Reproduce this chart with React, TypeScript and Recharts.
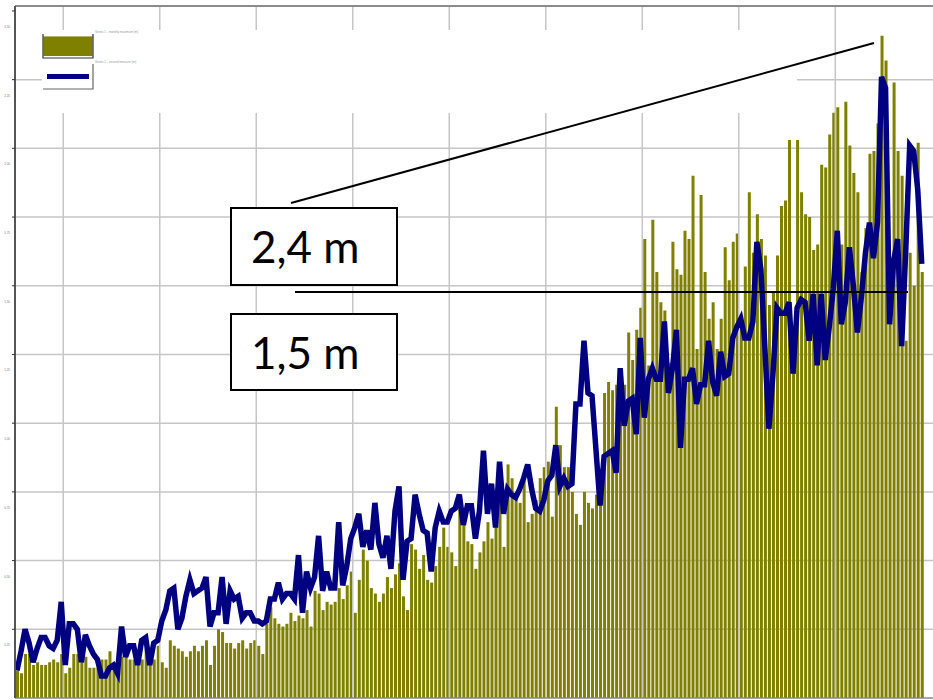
import { ComposedChart, Bar, Line, XAxis, YAxis, CartesianGrid, ReferenceLine } from 'recharts'

// monthly maximum (bars), metres
const barValues = [
  0.10, 0.09, 0.16, 0.16, 0.12, 0.13, 0.12, 0.12, 0.13, 0.14, 0.13, 0.16,
  0.09, 0.11, 0.16, 0.16, 0.13, 0.15, 0.11, 0.11, 0.11, 0.14, 0.14, 0.17,
  0.13, 0.15, 0.15, 0.15, 0.14, 0.14, 0.17, 0.14, 0.18, 0.14, 0.14, 0.19,
  0.13, 0.11, 0.21, 0.19, 0.18, 0.17, 0.15, 0.17, 0.19, 0.17, 0.19, 0.21,
  0.12, 0.19, 0.25, 0.24, 0.20, 0.20, 0.18, 0.20, 0.21, 0.18, 0.20, 0.21,
  0.19, 0.16, 0.27, 0.33, 0.29, 0.27, 0.26, 0.27, 0.31, 0.28, 0.30,
  0.29, 0.32, 0.26, 0.39, 0.38, 0.32, 0.35, 0.34, 0.35, 0.40, 0.36, 0.41,
  0.46, 0.31, 0.43, 0.54, 0.50, 0.40, 0.38, 0.35, 0.38, 0.44, 0.40, 0.45,
  0.49, 0.37, 0.32, 0.56, 0.54, 0.47, 0.52, 0.43, 0.42, 0.48, 0.55, 0.62,
  0.55, 0.53, 0.48, 0.70, 0.66, 0.57, 0.56, 0.47, 0.53, 0.57, 0.64, 0.58,
  0.66, 0.79, 0.55, 0.85, 0.80, 0.74, 0.71, 0.79, 0.64, 0.67, 0.72, 0.80,
  0.84, 0.86, 0.66, 1.06, 0.92, 0.84, 0.84, 0.75, 0.67, 0.63, 0.75, 0.71,
  0.69, 0.74, 0.75,
  1.11, 1.15, 1.12, 1.14, 1.10, 1.14, 1.33, 1.23, 1.34, 1.42, 1.67, 1.21,
  1.74, 1.55, 1.44, 1.41, 1.22, 1.66, 1.56, 1.54, 1.70, 1.67, 1.90, 1.27,
  1.83, 1.55, 1.38, 1.44, 1.27, 1.38, 1.64, 1.52, 1.66, 1.69, 1.39, 1.57,
  1.84, 1.62,
  1.76, 1.67, 1.61, 1.43, 1.48, 1.61, 1.79, 1.81, 2.03, 1.18, 2.03, 1.84,
  1.76, 1.75, 1.63, 1.65, 1.94, 1.93, 2.05, 2.13, 2.15, 1.65, 2.17, 2.01,
  1.91, 1.84, 1.55, 1.71, 1.98, 1.99, 2.09, 2.41, 2.32, 1.58, 2.24, 1.99,
  1.90, 1.30, 1.62, 1.50, 2.02, 1.55,
]

// second series (line), metres
const lineValues = [
  0.10, 0.17, 0.25, 0.20, 0.13, 0.18, 0.22, 0.22, 0.19, 0.18, 0.21, 0.35,
  0.12, 0.27, 0.27, 0.25, 0.13, 0.23, 0.19, 0.16, 0.14, 0.08, 0.08, 0.11,
  0.12, 0.09, 0.26, 0.15, 0.19, 0.19, 0.12, 0.21, 0.22, 0.12, 0.20, 0.21,
  0.28, 0.32, 0.39, 0.40, 0.25, 0.29, 0.37, 0.43, 0.38, 0.39, 0.40, 0.44,
  0.26, 0.31, 0.31, 0.44, 0.27, 0.39, 0.36, 0.37, 0.29, 0.31, 0.31, 0.28,
  0.28, 0.27, 0.28, 0.36, 0.36, 0.42, 0.36, 0.38, 0.38, 0.36, 0.52,
  0.31, 0.46, 0.40, 0.44, 0.59, 0.39, 0.46, 0.40, 0.40, 0.64, 0.41, 0.48,
  0.58, 0.62, 0.67, 0.55, 0.61, 0.54, 0.71, 0.56, 0.51, 0.59, 0.47, 0.68,
  0.77, 0.43, 0.57, 0.58, 0.74, 0.67, 0.61, 0.60, 0.46, 0.62, 0.68, 0.64,
  0.64, 0.68, 0.69, 0.74, 0.63, 0.70, 0.70, 0.58, 0.68, 0.90, 0.67, 0.78,
  0.62, 0.86, 0.67, 0.76, 0.74, 0.73, 0.76, 0.80, 0.85, 0.76, 0.69, 0.68,
  0.72, 0.79, 0.81, 0.92, 0.77, 0.80, 0.77, 0.78, 1.07, 1.07, 1.30, 1.11,
  1.10, 0.90, 0.70,
  0.88, 0.89, 0.90, 0.82, 1.20, 0.99, 1.08, 1.09, 0.96, 1.31, 1.02, 1.16,
  1.20, 1.16, 1.16, 1.37, 1.11, 1.20, 1.34, 0.91, 1.16, 1.16, 1.20, 1.07,
  1.14, 1.14, 1.30, 1.15, 1.10, 1.26, 1.17, 1.18, 1.31, 1.35, 1.38, 1.31,
  1.31, 1.37,
  1.66, 1.56, 1.27, 0.98, 1.18, 1.42, 1.40, 1.40, 1.44, 1.18, 1.42, 1.45,
  1.44, 1.30, 1.47, 1.21, 1.47, 1.23, 1.35, 1.49, 1.70, 1.36, 1.44, 1.64,
  1.50, 1.33, 1.46, 1.62, 1.73, 1.60, 1.73, 2.26, 2.22, 1.36, 1.59, 1.67,
  1.28, 1.62, 2.01, 1.99, 1.85, 1.58,
]

const yTicks = [0, 0.25, 0.5, 0.75, 1, 1.25, 1.5, 1.75, 2, 2.25, 2.5]
const yGridValues = [0.25, 0.5, 0.75, 1, 1.25, 1.5, 1.75, 2, 2.25]
const xGridTicks = [12, 36, 60, 84, 108, 132, 156, 180, 204]
const seriesNames = ['Series 1 - monthly maximum (m)', 'Series 2 - second measure (m)']
const calloutLabels = ['2,4 m', '1,5 m']

const Y_MAX = 2.518
const X_MAX = 228.3

const data = barValues.map((v, i) => ({ x: i + 0.5, bar: v, line: lineValues[i] }))

function YTick({ x, y, payload }: any) {
  return (
    <text x={x} y={y + 17} fontSize={3} fill="#777" textAnchor="end" fontFamily="Liberation Sans, sans-serif">
      {payload.value.toFixed(2).replace('.', ',')}
    </text>
  )
}

function Overlay() {
  return (
    <svg width={933} height={700} style={{ position: 'absolute', left: 0, top: 0, pointerEvents: 'none' }}>
      {/* legend background */}
      <rect x={42} y={30} width={755} height={83} fill="#fff" />
      <rect x={43.5} y={36} width={49} height={20} fill="#808000" />
      <line x1={43.5} y1={36.5} x2={92.5} y2={36.5} stroke="#b4b46a" strokeWidth={1} />
      <polyline points="43,34 43,58 93,58 93,34" fill="none" stroke="#333" strokeWidth={1.2} />
      <rect x={47} y={74} width={42} height={5} fill="#000080" />
      <polyline points="93,64 93,89 43,89" fill="none" stroke="#666" strokeWidth={1.2} />
      <text x={95} y={33} fontSize={3} fill="#999" fontFamily="Liberation Sans, sans-serif">{seriesNames[0]}</text>
      <text x={95} y={63} fontSize={3} fill="#999" fontFamily="Liberation Sans, sans-serif">{seriesNames[1]}</text>

      {/* callouts */}
      <line x1={291} y1={203} x2={874} y2={43} stroke="#000" strokeWidth={2} />
      <line x1={295} y1={292} x2={908} y2={292} stroke="#000" strokeWidth={2} />
      <rect x={231} y={208} width={166} height={77} fill="#fff" stroke="#000" strokeWidth={2} />
      <rect x={231} y={314} width={166} height={76} fill="#fff" stroke="#000" strokeWidth={2} />
      <text x={251} y={263} fontSize={44} fontFamily="Lato, sans-serif" fill="#000">{calloutLabels[0]}</text>
      <text x={251} y={369} fontSize={44} fontFamily="Lato, sans-serif" fill="#000">{calloutLabels[1]}</text>
    </svg>
  )
}

export default function App() {
  return (
    <div style={{ position: 'absolute', left: 0, top: 0, width: 933, height: 700, overflow: 'hidden', background: '#fff' }}>
      <ComposedChart width={933} height={700} data={data} margin={{ top: 6, right: 0, bottom: 0, left: 0 }}>
        <CartesianGrid
          stroke="#c6c6c6"
          strokeWidth={1.5}
          vertical={false}
          horizontalValues={yGridValues}
        />
        {xGridTicks.map((t) => (
          <ReferenceLine key={t} x={t} stroke="#c6c6c6" strokeWidth={1.5} />
        ))}
        <XAxis
          dataKey="x"
          type="number"
          domain={[0, X_MAX]}
          ticks={xGridTicks}
          allowDataOverflow
          height={2}
          tick={false}
          tickSize={3}
          tickLine={{ stroke: '#555' }}
          axisLine={{ stroke: '#888', strokeWidth: 1.5 }}
        />
        <YAxis
          type="number"
          domain={[0, Y_MAX]}
          ticks={yTicks}
          allowDataOverflow
          width={15}
          tickSize={3}
          tickMargin={2}
          tick={<YTick />}
          tickLine={{ stroke: '#333' }}
          axisLine={{ stroke: '#555', strokeWidth: 2 }}
        />
        <ReferenceLine y={Y_MAX} stroke="#8c8c8c" strokeWidth={2} />
        <Bar dataKey="bar" fill="#808000" barSize={3} isAnimationActive={false} />
        <Line
          dataKey="line"
          type="linear"
          stroke="#000080"
          strokeWidth={5.5}
          dot={false}
          isAnimationActive={false}
        />
      </ComposedChart>
      <Overlay />
    </div>
  )
}
